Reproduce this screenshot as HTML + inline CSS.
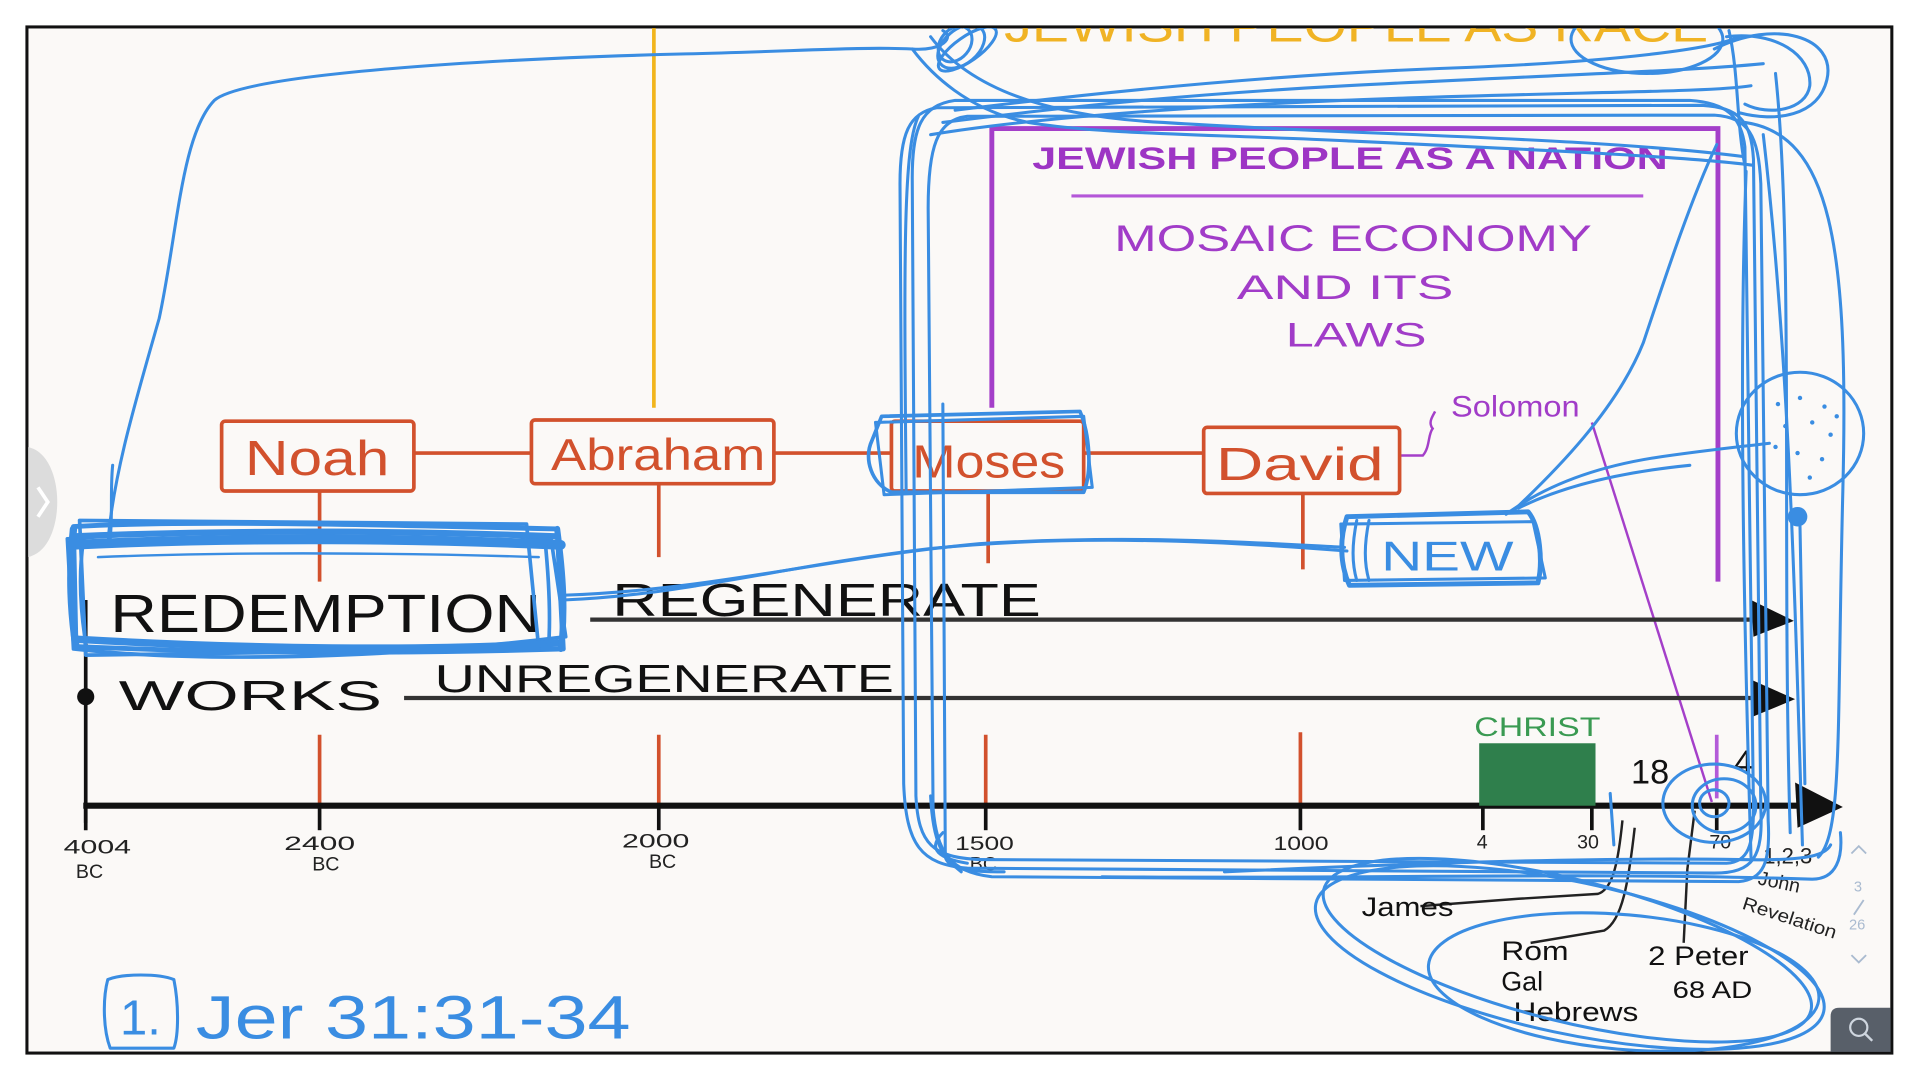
<!DOCTYPE html>
<html><head><meta charset="utf-8"><style>
html,body{margin:0;padding:0;background:#fff;width:1920px;height:1080px;overflow:hidden}
svg{display:block}
text{font-family:"Liberation Sans",sans-serif}
</style></head><body>
<svg width="1920" height="1080" viewBox="0 0 1568 882" preserveAspectRatio="none" xmlns="http://www.w3.org/2000/svg">
<defs><clipPath id="fr"><rect x="23" y="23" width="1521" height="836"/></clipPath></defs>
<rect x="0" y="0" width="1568" height="882" fill="#ffffff"/>
<rect x="22" y="22" width="1523" height="838" fill="#fbf9f7" stroke="#111" stroke-width="2.5"/>
<g clip-path="url(#fr)">
<!-- left tab -->
<path d="M22,365 C55,370 55,450 22,455 Z" fill="#dcdcdc"/>
<path d="M31,398 L39,410 L31,422" fill="none" stroke="#fff" stroke-width="3"/>
<!-- orange top text -->
<text x="820" y="34" font-size="38" fill="#f0b324" textLength="575" lengthAdjust="spacingAndGlyphs">JEWISH PEOPLE AS RACE</text>
<!-- yellow vertical -->
<line x1="534" y1="22" x2="534" y2="333" stroke="#f2b51c" stroke-width="3"/>
<!-- purple box -->
<path d="M810,333 L810,105 L1403,105 L1403,475" fill="none" stroke="#a43fc9" stroke-width="4"/>
<line x1="875" y1="160" x2="1342" y2="160" stroke="#b457d8" stroke-width="2.5"/>
<text x="843" y="138" font-size="26" font-weight="bold" fill="#9d35c4" textLength="519" lengthAdjust="spacingAndGlyphs">JEWISH PEOPLE AS A NATION</text>
<text x="910" y="205" font-size="30" fill="#a13cc8" textLength="390" lengthAdjust="spacingAndGlyphs">MOSAIC ECONOMY</text>
<text x="1010" y="244" font-size="28" fill="#a13cc8" textLength="177" lengthAdjust="spacingAndGlyphs">AND ITS</text>
<text x="1050" y="283" font-size="28" fill="#a13cc8" textLength="115" lengthAdjust="spacingAndGlyphs">LAWS</text>
<text x="1185" y="340" font-size="24" fill="#a13cc8" textLength="105" lengthAdjust="spacingAndGlyphs">Solomon</text>
<path d="M1143,372 L1162,372 C1168,365 1166,355 1170,350 C1166,345 1170,340 1172,336" fill="none" stroke="#a43fc9" stroke-width="2"/>
<line x1="1300" y1="345" x2="1398" y2="655" stroke="#a43fc9" stroke-width="2"/>
<line x1="1402" y1="600" x2="1402" y2="652" stroke="#b35bd8" stroke-width="3"/>
<!-- red boxes & lines -->
<g stroke="#d2512d" stroke-width="3" fill="none">
<line x1="338" y1="370" x2="434" y2="370"/>
<line x1="632" y1="370" x2="728" y2="370"/>
<line x1="885" y1="370" x2="982" y2="370"/>
<rect x="181" y="344" width="157" height="57" rx="3"/>
<rect x="434" y="343" width="198" height="52" rx="3"/>
<rect x="728" y="344" width="157" height="57" rx="3"/>
<rect x="983" y="349" width="160" height="54" rx="3"/>
<line x1="261" y1="401" x2="261" y2="475"/>
<line x1="538" y1="395" x2="538" y2="455"/>
<line x1="807" y1="401" x2="807" y2="460"/>
<line x1="1064" y1="403" x2="1064" y2="465"/>
<line x1="261" y1="600" x2="261" y2="656"/>
<line x1="538" y1="600" x2="538" y2="656"/>
<line x1="805" y1="600" x2="805" y2="656"/>
<line x1="1062" y1="598" x2="1062" y2="656"/>
</g>
<text x="200" y="388" font-size="40" fill="#d2512d" textLength="118" lengthAdjust="spacingAndGlyphs">Noah</text>
<text x="450" y="384" font-size="36" fill="#d2512d" textLength="175" lengthAdjust="spacingAndGlyphs">Abraham</text>
<text x="745" y="390" font-size="38" fill="#d2512d" textLength="125" lengthAdjust="spacingAndGlyphs">Moses</text>
<text x="993" y="392" font-size="38" fill="#d2512d" textLength="137" lengthAdjust="spacingAndGlyphs">David</text>
<!-- black timeline -->
<line x1="482" y1="506" x2="1432" y2="506" stroke="#333" stroke-width="3.5"/>
<line x1="330" y1="570" x2="1432" y2="570" stroke="#333" stroke-width="3.5"/>
<path d="M1430,490 L1465,507 L1432,520 Z" fill="#111"/>
<path d="M1430,555 L1466,571 L1432,585 Z" fill="#111"/>
<line x1="68" y1="658" x2="1475" y2="658" stroke="#111" stroke-width="5"/>
<path d="M1466,639 L1505,659 L1468,676 Z" fill="#111"/>
<line x1="70" y1="490" x2="70" y2="672" stroke="#111" stroke-width="3"/>
<circle cx="70" cy="569" r="7" fill="#111"/>
<g stroke="#111" stroke-width="3">
<line x1="70" y1="658" x2="70" y2="678"/><line x1="261" y1="658" x2="261" y2="678"/>
<line x1="538" y1="658" x2="538" y2="678"/><line x1="805" y1="658" x2="805" y2="678"/>
<line x1="1062" y1="658" x2="1062" y2="678"/><line x1="1211" y1="658" x2="1211" y2="678"/>
<line x1="1300" y1="658" x2="1300" y2="678"/><line x1="1402" y1="658" x2="1402" y2="678"/>
</g>
<text x="90" y="516" font-size="44" fill="#111" textLength="352" lengthAdjust="spacingAndGlyphs">REDEMPTION</text>
<text x="500" y="503" font-size="38" fill="#111" textLength="350" lengthAdjust="spacingAndGlyphs">REGENERATE</text>
<text x="97" y="580" font-size="34" fill="#111" textLength="215" lengthAdjust="spacingAndGlyphs">WORKS</text>
<text x="355" y="565" font-size="32" fill="#111" textLength="375" lengthAdjust="spacingAndGlyphs">UNREGENERATE</text>
<g fill="#222" font-size="16">
<text x="52" y="697" textLength="55" lengthAdjust="spacingAndGlyphs">4004</text><text x="62" y="717">BC</text>
<text x="232" y="694" textLength="58" lengthAdjust="spacingAndGlyphs">2400</text><text x="255" y="711">BC</text>
<text x="508" y="692" textLength="55" lengthAdjust="spacingAndGlyphs">2000</text><text x="530" y="709">BC</text>
<text x="780" y="694" textLength="48" lengthAdjust="spacingAndGlyphs">1500</text><text x="792" y="711">BC</text>
<text x="1040" y="694" textLength="45" lengthAdjust="spacingAndGlyphs">1000</text>
<text x="1206" y="693">4</text><text x="1288" y="693">30</text><text x="1396" y="693">70</text>
<text x="1440" y="705" font-size="18">1,2,3</text>
<text x="1435" y="722" font-size="16" transform="rotate(12 1435 722)">John</text>
<text x="1422" y="742" font-size="15" transform="rotate(18 1422 742)" textLength="80" lengthAdjust="spacingAndGlyphs">Revelation</text>
</g>
<!-- christ -->
<rect x="1208" y="607" width="95" height="51" fill="#2f7f4c"/>
<text x="1204" y="601" font-size="22" fill="#3a9a52" textLength="103" lengthAdjust="spacingAndGlyphs">CHRIST</text>
<text x="1332" y="640" font-size="28" fill="#111">18</text>
<text x="1416" y="632" font-size="28" fill="#111">4</text>
<!-- bottom black handwriting -->
<g fill="none" stroke="#222" stroke-width="2">
<path d="M1160,740 L1240,734 L1305,730 C1318,726 1322,700 1325,670"/>
<path d="M1250,770 L1310,760 C1325,752 1330,720 1335,676"/>
<path d="M1375,770 L1378,710 L1384,662"/>
</g>
<g fill="#111">
<text x="1112" y="748" font-size="22" textLength="75" lengthAdjust="spacingAndGlyphs">James</text>
<text x="1226" y="784" font-size="22" textLength="55" lengthAdjust="spacingAndGlyphs">Rom</text>
<text x="1226" y="809" font-size="22">Gal</text>
<text x="1236" y="834" font-size="22" textLength="102" lengthAdjust="spacingAndGlyphs">Hebrews</text>
<text x="1346" y="788" font-size="22" textLength="82" lengthAdjust="spacingAndGlyphs">2 Peter</text>
<text x="1366" y="815" font-size="20" textLength="65" lengthAdjust="spacingAndGlyphs">68 AD</text>
</g>
<!-- page indicator -->
<g fill="none" stroke="#aabbd0" stroke-width="1.5">
<path d="M1512,697 L1518,691 L1524,697"/><path d="M1512,780 L1518,786 L1524,780"/>
<line x1="1522" y1="735" x2="1514" y2="747"/>
</g>
<text x="1514" y="728" font-size="12" fill="#aabbd0">3</text>
<text x="1510" y="759" font-size="12" fill="#aabbd0">26</text>
<!-- zoom button -->
<path d="M1495,860 L1495,830 Q1495,823 1502,823 L1545,823 L1545,860 Z" fill="#585f69"/>
<circle cx="1518" cy="839" r="7" fill="none" stroke="#cfd6df" stroke-width="1.8"/>
<line x1="1523" y1="844" x2="1529" y2="850" stroke="#cfd6df" stroke-width="2"/>
<!-- BLUE SCRIBBLES -->
<g fill="none" stroke="#3a8de2" stroke-width="2.5" stroke-linecap="round" stroke-linejoin="round">
<path d="M88,445 C92,390 110,330 130,260 C145,190 148,110 175,82 C200,60 400,48 560,44 C650,42 700,38 745,40 C770,42 780,30 770,25"/>
<path d="M90,440 C92,420 90,400 92,380"/>
<ellipse cx="785" cy="38" rx="22" ry="14" transform="rotate(-40 785 38)"/>
<ellipse cx="780" cy="36" rx="16" ry="12" transform="rotate(-50 780 36)"/>
<ellipse cx="790" cy="40" rx="28" ry="10" transform="rotate(-35 790 40)"/>
<path d="M745,40 C760,60 790,90 840,100 C900,110 1000,110 1100,115 C1250,122 1380,128 1432,135"/>
<path d="M760,30 C790,70 850,95 950,100 C1100,110 1300,112 1425,128"/>
<path d="M770,100 C850,90 950,78 1100,70 C1250,62 1380,58 1440,52"/>
<path d="M760,110 C850,95 1000,85 1150,80 C1300,75 1400,75 1430,70"/>
<path d="M780,90 C900,75 1050,60 1200,55 C1320,50 1400,40 1420,30"/>
<ellipse cx="1345" cy="32" rx="62" ry="28"/>
<path d="M1400,40 C1450,15 1500,30 1492,65 C1485,95 1450,100 1420,92"/>
<path d="M1410,30 C1450,25 1480,45 1478,70 C1475,90 1445,95 1425,85"/>
<path d="M1412,25 C1420,60 1418,100 1425,135"/>
<path d="M765,88 C742,92 735,110 735,150 L738,640 C740,690 752,706 790,709 L1400,713 C1432,713 1440,700 1438,660 L1432,130 C1430,98 1420,88 1390,86 Z"/>
<path d="M780,82 C752,86 745,105 745,145 L748,650 C750,690 762,700 800,702 L1410,705 C1428,704 1432,690 1432,660 L1425,120 C1422,95 1410,84 1380,82 Z"/>
<path d="M790,95 C765,98 758,120 758,170 L762,660 C765,695 775,712 810,716 L1420,720 C1440,718 1446,705 1444,670 L1438,150 C1436,110 1428,96 1400,94 Z"/>
<path d="M770,330 L772,700 C775,710 790,712 820,712"/>
<path d="M750,95 C738,120 738,200 740,400"/>
<path d="M790,705 C760,700 760,690 770,680"/>
<path d="M760,650 C762,690 770,700 785,712"/>
<path d="M1000,712 C1150,705 1300,700 1420,702 C1470,703 1490,700 1495,690"/>
<path d="M900,716 C1100,718 1300,712 1480,718 C1500,718 1505,700 1503,680"/>
<path d="M1425,100 C1495,110 1510,200 1505,400 C1500,600 1505,680 1485,700"/>
<path d="M1440,110 C1462,300 1466,500 1472,690"/>
<path d="M1426,140 C1420,300 1424,500 1430,700"/>
<path d="M1450,60 C1465,200 1455,450 1462,680"/>
<path d="M1235,418 C1270,385 1320,335 1342,280 C1362,220 1382,160 1402,118"/>
<path d="M1230,420 C1260,398 1300,382 1350,374 C1390,368 1420,365 1445,362"/>
<path d="M1240,415 C1280,395 1330,385 1380,380"/>
<ellipse cx="1470" cy="354" rx="52" ry="50"/>
<path d="M1470,430 L1474,640"/>
<path d="M60,430 C150,425 300,428 455,432 L460,530 C300,535 150,532 62,528 Z" stroke-width="4"/>
<path d="M55,440 C200,430 350,432 450,440 L462,520 C300,540 150,540 60,530 Z" stroke-width="3"/>
<path d="M65,425 L430,428 L440,530 L70,535 Z" stroke-width="3"/>
<path d="M58,445 C200,438 350,440 458,445" stroke-width="8"/>
<path d="M60,438 C200,432 350,434 455,438" stroke-width="5"/>
<path d="M62,522 C200,530 350,532 458,525" stroke-width="6"/>
<path d="M60,432 C56,470 58,500 62,528" stroke-width="6"/>
<path d="M455,432 C460,470 462,500 458,530" stroke-width="5"/>
<path d="M68,442 C64,470 66,500 70,525" stroke-width="3"/>
<path d="M445,440 C448,470 450,500 448,528" stroke-width="3"/>
<path d="M80,455 C200,450 350,452 440,455" stroke-width="2"/>
<path d="M460,490 C560,486 640,462 760,448 C880,436 1000,442 1100,450"/>
<path d="M462,486 C580,482 680,455 800,444 C930,436 1040,444 1098,447"/>
<path d="M1100,422 L1248,418 C1258,430 1260,460 1256,476 L1102,478 C1094,460 1094,440 1100,422 Z" stroke-width="4"/>
<path d="M1095,428 L1252,426 L1262,472 L1098,474 Z" stroke-width="2.5"/>
<path d="M1108,425 C1104,445 1104,460 1108,474"/>
<path d="M1118,425 C1114,445 1114,460 1118,474"/>
<path d="M720,340 L882,336 C890,355 892,385 885,402 L728,402 C712,395 705,375 712,360 Z" stroke-width="3"/>
<path d="M715,345 L885,340 L892,398 L722,404 Z"/>
<ellipse cx="1400" cy="656" rx="42" ry="32"/>
<ellipse cx="1408" cy="658" rx="26" ry="22"/>
<ellipse cx="1400" cy="656" rx="12" ry="11"/>
<path d="M1315,648 L1318,690"/>
<ellipse cx="1282" cy="782" rx="212" ry="62" transform="rotate(12 1282 782)"/>
<ellipse cx="1280" cy="776" rx="205" ry="58" transform="rotate(14 1280 776)"/>
<ellipse cx="1326" cy="802" rx="160" ry="55" transform="rotate(5 1326 802)"/>
<path d="M88,800 C100,795 130,795 142,800 C146,820 146,845 142,856 L90,856 C84,840 84,815 88,800 Z"/>
</g>
<circle cx="1468" cy="422" r="8" fill="#3a8de2"/>
<g fill="#3a8de2">
<circle cx="1452" cy="330" r="1.8"/><circle cx="1470" cy="325" r="1.8"/><circle cx="1490" cy="332" r="1.8"/>
<circle cx="1458" cy="348" r="1.8"/><circle cx="1480" cy="345" r="1.8"/><circle cx="1495" cy="355" r="1.8"/>
<circle cx="1450" cy="365" r="1.8"/><circle cx="1468" cy="370" r="1.8"/><circle cx="1488" cy="375" r="1.8"/>
<circle cx="1460" cy="385" r="1.8"/><circle cx="1478" cy="390" r="1.8"/><circle cx="1500" cy="340" r="1.8"/>
</g>
<text x="1128" y="466" font-size="34" fill="#3a8de2" textLength="108" lengthAdjust="spacingAndGlyphs">NEW</text>
<text x="98" y="845" font-size="40" fill="#3a8de2">1.</text>
<text x="160" y="848" font-size="50" fill="#3a8de2" textLength="355" lengthAdjust="spacingAndGlyphs">Jer 31:31-34</text>
</g>
</svg>
</body></html>
